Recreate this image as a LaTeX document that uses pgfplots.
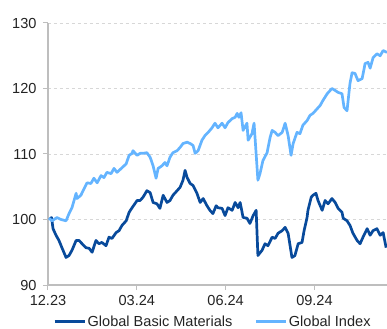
\documentclass[border=0pt]{standalone}
\usepackage{fontspec}
\setmainfont{Liberation Sans}
\usepackage{pgfplots}
\pgfplotsset{compat=1.18}
\definecolor{matdark}{RGB}{8,74,155}
\definecolor{idxlight}{RGB}{100,180,255}
\definecolor{axgrey}{RGB}{190,190,190}
\definecolor{gridgrey}{RGB}{215,215,215}
\definecolor{txt}{RGB}{35,35,35}

% x = months since end of December 2023
\pgfplotstableread{
x y
0.05 100.0
0.12 100.3
0.17 98.6
0.27 97.6
0.37 96.8
0.47 95.7
0.61 94.2
0.71 94.5
0.81 95.3
0.95 96.8
1.05 96.8
1.15 96.3
1.28 95.7
1.39 95.6
1.49 95.0
1.62 96.8
1.72 96.3
1.82 96.5
1.96 96.0
2.06 97.3
2.16 97.1
2.30 98.0
2.40 98.3
2.50 99.1
2.64 99.8
2.74 101.1
2.84 101.8
3.01 102.9
3.11 102.9
3.21 103.4
3.34 104.4
3.45 104.1
3.55 102.6
3.68 102.4
3.78 101.7
3.89 103.7
4.02 102.6
4.12 102.9
4.22 103.7
4.36 104.4
4.46 104.9
4.56 106.0
4.63 107.5
4.70 106.4
4.80 105.5
4.90 105.2
5.03 104.0
5.14 102.6
5.24 103.2
5.37 102.1
5.47 101.4
5.57 100.9
5.68 102.1
5.74 101.8
5.88 101.7
5.98 100.6
6.08 101.8
6.22 101.4
6.32 102.6
6.42 101.8
6.49 102.6
6.59 100.3
6.72 100.2
6.82 99.4
6.93 100.6
7.03 101.4
7.09 94.5
7.23 95.3
7.33 96.3
7.43 96.0
7.57 97.3
7.67 97.1
7.77 97.9
7.91 98.3
8.01 98.8
8.11 97.9
8.24 94.2
8.34 94.5
8.45 96.3
8.58 96.5
8.65 98.3
8.75 100.3
8.78 101.4
8.89 103.4
8.95 103.7
9.05 104.0
9.12 102.9
9.26 101.4
9.36 102.9
9.46 102.4
9.59 103.2
9.70 102.6
9.80 101.7
9.93 101.1
9.97 100.2
10.10 99.8
10.20 99.1
10.30 97.9
10.44 96.8
10.54 96.3
10.64 97.3
10.78 98.6
10.88 97.6
10.98 98.3
11.11 98.6
11.22 97.6
11.32 98.0
11.42 95.7
}\materials

\pgfplotstableread{
x y
0.03 100.2
0.14 99.8
0.30 100.3
0.44 100.0
0.61 99.8
0.71 100.9
0.81 101.8
0.95 104.0
0.98 103.2
1.11 103.7
1.22 104.7
1.32 105.6
1.45 105.5
1.55 106.3
1.66 105.6
1.79 106.7
1.89 106.4
1.99 107.2
2.13 107.0
2.23 107.8
2.33 107.2
2.50 107.9
2.64 108.5
2.74 109.8
2.84 110.1
2.87 110.5
3.01 109.8
3.11 110.1
3.21 110.1
3.34 110.2
3.45 109.5
3.55 108.2
3.65 106.3
3.72 107.8
3.85 108.2
3.95 108.7
4.02 108.2
4.12 109.5
4.22 110.2
4.36 110.5
4.46 111.0
4.56 111.6
4.70 111.8
4.80 111.6
4.90 111.3
4.97 110.1
5.07 110.5
5.20 112.1
5.30 112.8
5.41 113.3
5.54 114.0
5.64 114.7
5.74 114.0
5.88 114.7
5.98 114.0
6.08 114.8
6.22 115.4
6.32 115.6
6.39 116.2
6.45 115.6
6.52 116.3
6.59 113.6
6.72 114.7
6.76 112.1
6.89 113.1
6.96 114.7
7.09 106.0
7.16 107.0
7.26 109.0
7.40 110.2
7.50 112.5
7.57 113.6
7.67 113.3
7.77 112.8
7.91 113.3
8.01 114.7
8.11 112.8
8.21 109.8
8.28 111.6
8.41 113.3
8.51 113.1
8.61 114.4
8.75 115.1
8.85 115.9
8.95 116.2
9.09 116.9
9.19 117.4
9.29 118.2
9.43 119.2
9.53 119.7
9.59 120.0
9.70 119.7
9.80 119.4
9.93 119.2
10.00 117.1
10.10 116.6
10.20 120.8
10.27 122.4
10.37 122.3
10.47 121.2
10.61 121.5
10.71 123.8
10.81 124.0
10.88 123.1
10.98 124.7
11.11 125.3
11.22 125.0
11.32 125.8
11.45 125.5
}\globalidx

\begin{document}
\begin{tikzpicture}
\useasboundingbox (-48bp,-44bp) rectangle (339bp,285bp);
\begin{axis}[
  at={(0,0)}, anchor=south west,
  scale only axis,
  width=339bp, height=262bp,
  xmin=0, xmax=11.45,
  ymin=90, ymax=130,
  xtick={0,3,6,9},
  xticklabels={12.23,03.24,06.24,09.24},
  ytick={90,100,110,120,130},
  axis x line*=bottom,
  axis y line*=left,
  axis line style={axgrey, line width=1.4bp},
  x axis line style={-},
  y axis line style={-},
  tick style={axgrey, line width=1bp},
  tick align=outside,
  major tick length=5bp,
  ymajorgrids=true,
  major grid style={gridgrey, dashed, line width=0.9bp},
  /pgf/number format/assume math mode=true,
  ticklabel style={font=\fontsize{14.6}{16}\selectfont, text=txt},
  yticklabel style={xshift=-3bp},
  xticklabel style={yshift=-2bp},
  clip=false,
  legend columns=2,
  legend style={
    at={(0.0147,-0.139)}, anchor=west,
    draw=none, fill=none, inner sep=0pt,
    nodes={inner sep=0pt, text depth=0pt},
    font=\fontsize{14.6}{16}\selectfont,
    text=txt,
  },
  legend image code/.code={
    \draw[#1, line width=3bp] (0bp,0bp) -- (30bp,0bp);
  },
]
\addplot[matdark, line width=2.7bp, line join=round] table[x=x,y=y] {\materials};
\addlegendentry{\kern1.5bp Global Basic Materials\kern22bp\null}
\addplot[idxlight, line width=2.7bp, line join=round] table[x=x,y=y] {\globalidx};
\addlegendentry{\kern1.5bp Global Index}
\end{axis}
\end{tikzpicture}
\end{document}
